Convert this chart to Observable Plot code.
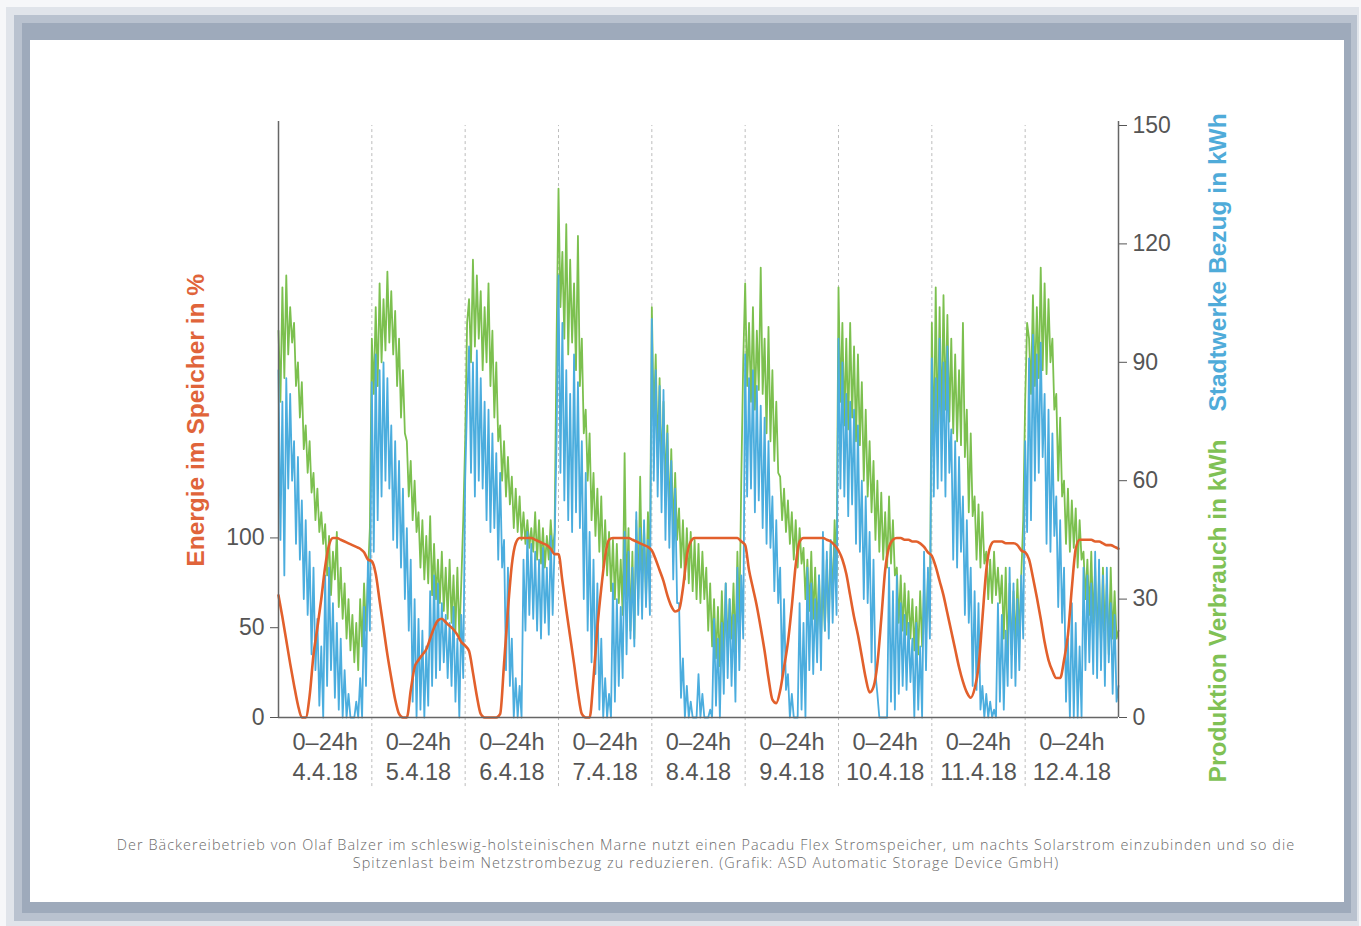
<!DOCTYPE html>
<html><head><meta charset="utf-8">
<script src="https://cdn.jsdelivr.net/npm/d3@7"></script>
<script src="https://cdn.jsdelivr.net/npm/@observablehq/plot@0.6"></script>
<style>
html,body{margin:0;padding:0;}
body{width:1361px;height:926px;background:#f6f7f9;position:relative;overflow:hidden;font-family:"Liberation Sans",Arial,sans-serif;}
.f{position:absolute;}
#chart{position:absolute;left:30px;top:40px;}
#cap{position:absolute;left:60px;width:1292px;top:836px;text-align:center;font-family:"Open Sans",sans-serif;font-size:14.4px;letter-spacing:1.05px;line-height:18px;color:#6a6a6a;font-weight:300;}
</style></head><body>
<div class="f" style="left:6px;top:7px;right:2px;bottom:0;background:#e0e4ea"></div>
<div class="f" style="left:14px;top:15px;right:4px;bottom:5px;background:#b9c2cf"></div>
<div class="f" style="left:22px;top:23px;right:10px;bottom:13px;background:#9eaabb"></div>
<div class="f" style="left:30px;top:40px;right:17px;bottom:24px;background:#ffffff"></div>
<div id="chart"></div>
<div id="cap">Der Bäckereibetrieb von Olaf Balzer im schleswig-holsteinischen Marne nutzt einen Pacadu Flex Stromspeicher, um nachts Solarstrom einzubinden und so die<br>Spitzenlast beim Netzstrombezug zu reduzieren. (Grafik: ASD Automatic Storage Device GmbH)</div>
<script>
// Day labels
const days = ["4.4.18","5.4.18","6.4.18","7.4.18","8.4.18","9.4.18","10.4.18","11.4.18","12.4.18"];
const dayRange = "0–24h";
const kwhTicks = [0,30,60,90,120,150];
const pctTicks = [0,50,100];

// Produktion Verbrauch in kWh (half-hourly, 9 days)
const verbrauch = [
 98,80,109,86,112,92,104,95,100,84,90,76,85,68,74,62,70,57,62,50,58,47,52,44,49,36,46,31,42,35,47,28,38,25,34,20,30,17,26,14,24,12,30,18,34,22,36,48,
 96,82,104,84,110,90,106,93,113,95,108,92,103,84,96,76,88,72,70,56,65,50,60,47,52,38,50,35,46,34,51,31,44,30,40,29,42,27,38,25,40,24,36,22,38,20,34,50,
 70,100,106,90,116,94,112,96,108,88,104,90,110,84,98,76,90,70,74,60,70,56,66,54,61,48,58,47,56,45,52,44,50,43,48,42,52,40,50,39,48,38,46,40,50,42,47,95,
 134,104,118,96,125,92,116,95,110,88,122,84,96,72,78,60,72,50,62,46,58,42,56,38,50,36,47,32,45,30,44,29,40,26,67,30,48,22,42,20,50,30,61,34,48,30,52,38,
 104,75,92,66,86,62,80,58,74,50,68,47,62,45,53,38,50,35,48,34,47,32,45,30,44,29,42,30,38,22,34,18,30,15,28,13,32,16,34,18,30,20,34,16,42,24,60,90,
 110,84,100,80,104,78,98,83,114,82,96,72,99,70,88,65,80,62,61,50,58,47,55,44,52,40,50,38,48,39,43,30,40,27,42,25,38,22,36,20,34,22,40,24,44,30,50,36,
 109,80,100,74,96,73,100,76,94,70,92,69,85,60,78,56,70,52,65,45,60,42,57,40,52,38,56,39,50,36,38,24,36,22,34,21,32,20,30,17,28,16,32,18,33,20,36,24,
 100,66,109,70,104,73,107,78,102,75,96,72,92,70,88,69,100,66,78,52,72,51,56,40,54,38,52,39,42,30,40,29,42,31,38,29,36,20,38,17,34,16,32,18,35,20,36,50,
 80,100,96,82,107,84,104,86,114,88,110,87,106,90,96,78,82,60,76,56,60,44,58,42,55,43,53,38,50,40,42,30,40,26,42,24,38,20,36,18,38,22,34,16,38,20,32,20,
 22
];

// Stadtwerke Bezug in kWh (half-hourly, 9 days)
const bezug = [
 88,45,80,36,86,58,82,60,70,44,66,40,55,30,50,26,42,16,38,12,25,3,18,0,36,8,38,12,29,5,24,2,20,0,12,0,6,0,0,0,4,0,10,0,28,8,40,22,
 85,42,92,50,88,56,90,60,86,58,74,45,70,43,65,38,58,30,48,22,40,4,30,0,25,2,22,0,18,3,32,8,36,10,34,12,29,14,26,10,24,8,28,4,20,0,26,10,
 60,80,94,62,90,56,93,60,86,58,80,50,78,47,72,48,67,40,62,38,45,12,38,8,20,0,10,0,8,0,40,22,47,26,44,25,42,22,40,20,43,24,38,21,46,26,44,70,
 112,62,100,55,88,50,82,47,92,52,85,48,70,30,62,22,47,14,40,11,34,2,20,0,10,0,6,0,34,4,30,8,28,10,47,16,42,20,38,18,52,26,48,25,50,28,45,26,
 101,60,88,56,84,52,83,45,72,43,65,35,58,29,29,5,15,0,8,0,4,0,0,0,11,0,6,0,0,0,2,0,25,3,20,0,24,6,34,10,30,8,26,4,38,12,36,20,
 92,56,86,58,88,52,84,55,79,48,76,44,70,43,56,32,50,29,38,10,30,7,11,0,6,0,0,0,29,2,24,0,38,12,34,11,30,14,36,12,47,22,42,20,45,24,44,26,
 96,58,90,56,82,51,80,54,78,44,74,42,60,30,56,29,47,14,40,11,6,0,0,0,0,0,38,4,32,2,36,6,29,8,26,7,24,9,20,0,24,2,18,0,42,12,38,20,
 91,56,86,58,96,60,90,56,94,62,73,40,70,38,66,42,56,26,50,24,38,8,32,7,29,2,8,0,6,0,4,0,2,0,29,4,26,2,22,8,38,10,34,8,30,12,36,20,
 70,47,91,50,97,60,92,62,95,66,82,44,78,42,72,46,56,28,50,24,38,4,20,0,29,0,24,0,18,0,38,12,36,14,34,11,42,10,40,12,36,8,38,14,29,6,26,4,
 8
];

// Energie im Speicher in % (hourly, 9 days)
const speicher = [
 68,56,43,30,18,7,0,0,12,35,50,66,84,96,100,100,99,98,97,96,95,94,92,88,
 87,80,65,50,35,22,10,2,0,0,15,28,32,35,38,44,50,54,55,53,51,49,46,42,
 40,37,25,12,2,0,0,0,0,2,30,60,85,97,100,100,100,100,99,98,97,96,94,91,
 91,76,60,45,30,14,2,0,0,22,50,72,90,99,100,100,100,100,100,99,98,97,96,95,
 93,88,82,76,68,62,59,60,72,90,98,100,100,100,100,100,100,100,100,100,100,100,100,98,
 96,82,72,62,50,37,22,10,8,15,28,42,62,85,98,100,100,100,100,100,100,99,98,96,
 93,88,80,68,56,46,34,22,14,17,30,55,82,95,99,100,100,99,99,98,98,97,95,92,
 90,84,76,68,58,48,38,28,20,14,11,16,28,55,82,95,98,98,98,97,97,97,96,93,
 92,88,78,67,55,42,32,26,22,22,32,46,72,94,99,99,99,99,98,98,97,96,96,95,
 94
];

const K = 0.455; // kWh per percent (left axis shares the frame)
const green = "#7cc04f", blue = "#4badde", orange = "#e2602c", axisC = "#666", textC = "#555";

const gData = verbrauch.map((v,i)=>({h:i*0.5, v}));
const bData = bezug.map((v,i)=>({h:i*0.5, v}));
const oData = speicher.map((v,i)=>({h:i, v}));
const dData = days.map((d,i)=>({h:i*24+12, d}));
const seps = d3.range(1, days.length).map(i=>i*24);

const plot = Plot.plot({
  width: 1314, height: 760,
  marginLeft: 248, marginRight: 226, marginTop: 85, marginBottom: 83,
  x: {domain: [0, 216], axis: null, label: null},
  y: {domain: [0, 150], axis: null, label: null},
  style: {background: "transparent", fontFamily: "'Liberation Sans', Arial, sans-serif", overflow: "visible"},
  marks: [
    Plot.ruleX(seps, {y1: -17.5, y2: 150, stroke: "#bdbdbd", strokeDasharray: "3,3", strokeWidth: 1}),
    Plot.line(gData, {x: "h", y: "v", stroke: green, strokeWidth: 1.8}),
    Plot.line(bData, {x: "h", y: "v", stroke: blue, strokeWidth: 1.8}),
    Plot.line(oData, {x: "h", y: d => d.v * K, stroke: orange, strokeWidth: 2.6, curve: "monotone-x"}),
    Plot.ruleX([0], {y1: 0, y2: 151, stroke: axisC, strokeWidth: 1.5}),
    Plot.ruleX([216], {y1: 0, y2: 151, stroke: axisC, strokeWidth: 1.5}),
    Plot.ruleY([0], {x1: 0, x2: 216, stroke: axisC, strokeWidth: 1.5}),
    Plot.axisY({anchor: "left", label: null, ticks: pctTicks.map(p => p * K), tickFormat: d => String(Math.round(d / K)), tickSize: 8, tickPadding: 6, fontSize: 23, color: textC}),
    Plot.axisY({anchor: "right", label: null, ticks: kwhTicks, tickSize: 8, tickPadding: 6, fontSize: 23, color: textC}),
    Plot.text(dData, {x: "h", y: -6.2, text: () => dayRange, fontSize: 23.5, fill: textC}),
    Plot.text(dData, {x: "h", y: -14, text: "d", fontSize: 23.5, fill: textC}),
    Plot.text(["Energie im Speicher in %"], {frameAnchor: "left", y: 75.3, dx: -82, rotate: -90, textAnchor: "middle", fill: "#e0643a", fontWeight: "bold", fontSize: 24.5}),
    Plot.text(["Produktion Verbrauch in kWh"], {frameAnchor: "right", y: 27, dx: 100, rotate: -90, textAnchor: "middle", fill: "#80c155", fontWeight: "bold", fontSize: 24.5}),
    Plot.text(["Stadtwerke Bezug in kWh"], {frameAnchor: "right", y: 115.3, dx: 100, rotate: -90, textAnchor: "middle", fill: "#4fabd9", fontWeight: "bold", fontSize: 24.5})
  ]
});
document.getElementById("chart").appendChild(plot);
</script>
</body></html>
